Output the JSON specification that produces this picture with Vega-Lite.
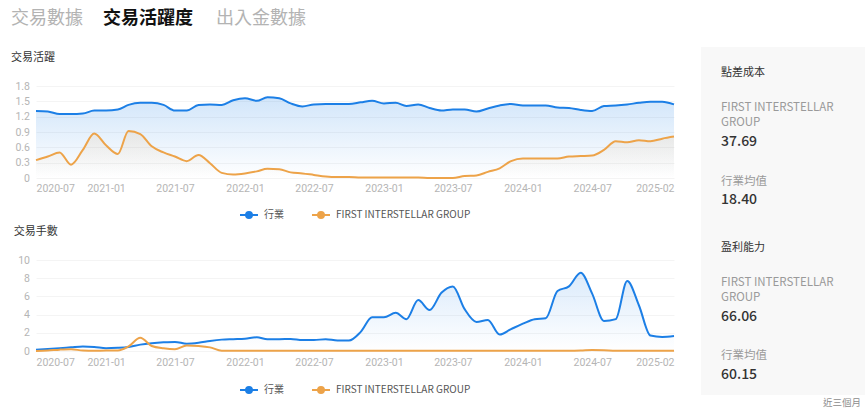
{
  "$schema": "https://vega.github.io/schema/vega-lite/v6.json",
  "padding": {"left": 10, "top": 6, "right": 3, "bottom": 0},
  "background": "#ffffff",
  "config": {
    "font": "Noto Sans CJK TC",
    "view": {"stroke": null},
    "axis": {"domain": false, "ticks": false, "title": null, "labelColor": "#b5b5b5", "labelFontSize": 10.5, "labelFont": "Roboto", "gridColor": "#f4f4f4", "gridWidth": 1},
    "title": {"anchor": "start", "fontSize": 11, "fontWeight": "normal", "color": "#333333", "offset": 18, "dx": -4},
    "legend": {"layout": {"bottom": {"anchor": "middle"}}}
  },
  "datasets": {
    "activity": [
      {"month": "2020-07", "行業": 1.31, "FIRST INTERSTELLAR GROUP": 0.35},
      {"month": "2020-08", "行業": 1.30, "FIRST INTERSTELLAR GROUP": 0.42},
      {"month": "2020-09", "行業": 1.25, "FIRST INTERSTELLAR GROUP": 0.50},
      {"month": "2020-10", "行業": 1.25, "FIRST INTERSTELLAR GROUP": 0.26},
      {"month": "2020-11", "行業": 1.26, "FIRST INTERSTELLAR GROUP": 0.55},
      {"month": "2020-12", "行業": 1.32, "FIRST INTERSTELLAR GROUP": 0.87},
      {"month": "2021-01", "行業": 1.32, "FIRST INTERSTELLAR GROUP": 0.64},
      {"month": "2021-02", "行業": 1.34, "FIRST INTERSTELLAR GROUP": 0.47},
      {"month": "2021-03", "行業": 1.43, "FIRST INTERSTELLAR GROUP": 0.92},
      {"month": "2021-04", "行業": 1.47, "FIRST INTERSTELLAR GROUP": 0.86},
      {"month": "2021-05", "行業": 1.47, "FIRST INTERSTELLAR GROUP": 0.62},
      {"month": "2021-06", "行業": 1.43, "FIRST INTERSTELLAR GROUP": 0.50},
      {"month": "2021-07", "行業": 1.32, "FIRST INTERSTELLAR GROUP": 0.42},
      {"month": "2021-08", "行業": 1.32, "FIRST INTERSTELLAR GROUP": 0.33},
      {"month": "2021-09", "行業": 1.43, "FIRST INTERSTELLAR GROUP": 0.45},
      {"month": "2021-10", "行業": 1.44, "FIRST INTERSTELLAR GROUP": 0.29},
      {"month": "2021-11", "行業": 1.43, "FIRST INTERSTELLAR GROUP": 0.10},
      {"month": "2021-12", "行業": 1.52, "FIRST INTERSTELLAR GROUP": 0.07},
      {"month": "2022-01", "行業": 1.56, "FIRST INTERSTELLAR GROUP": 0.09},
      {"month": "2022-02", "行業": 1.51, "FIRST INTERSTELLAR GROUP": 0.13},
      {"month": "2022-03", "行業": 1.58, "FIRST INTERSTELLAR GROUP": 0.18},
      {"month": "2022-04", "行業": 1.56, "FIRST INTERSTELLAR GROUP": 0.17},
      {"month": "2022-05", "行業": 1.46, "FIRST INTERSTELLAR GROUP": 0.11},
      {"month": "2022-06", "行業": 1.40, "FIRST INTERSTELLAR GROUP": 0.09},
      {"month": "2022-07", "行業": 1.44, "FIRST INTERSTELLAR GROUP": 0.06},
      {"month": "2022-08", "行業": 1.45, "FIRST INTERSTELLAR GROUP": 0.03},
      {"month": "2022-09", "行業": 1.45, "FIRST INTERSTELLAR GROUP": 0.02},
      {"month": "2022-10", "行業": 1.45, "FIRST INTERSTELLAR GROUP": 0.02},
      {"month": "2022-11", "行業": 1.48, "FIRST INTERSTELLAR GROUP": 0.01},
      {"month": "2022-12", "行業": 1.51, "FIRST INTERSTELLAR GROUP": 0.01},
      {"month": "2023-01", "行業": 1.46, "FIRST INTERSTELLAR GROUP": 0.01},
      {"month": "2023-02", "行業": 1.47, "FIRST INTERSTELLAR GROUP": 0.01},
      {"month": "2023-03", "行業": 1.41, "FIRST INTERSTELLAR GROUP": 0.01},
      {"month": "2023-04", "行業": 1.44, "FIRST INTERSTELLAR GROUP": 0.01},
      {"month": "2023-05", "行業": 1.37, "FIRST INTERSTELLAR GROUP": 0.00},
      {"month": "2023-06", "行業": 1.32, "FIRST INTERSTELLAR GROUP": 0.00},
      {"month": "2023-07", "行業": 1.34, "FIRST INTERSTELLAR GROUP": 0.00},
      {"month": "2023-08", "行業": 1.34, "FIRST INTERSTELLAR GROUP": 0.04},
      {"month": "2023-09", "行業": 1.30, "FIRST INTERSTELLAR GROUP": 0.05},
      {"month": "2023-10", "行業": 1.36, "FIRST INTERSTELLAR GROUP": 0.12},
      {"month": "2023-11", "行業": 1.42, "FIRST INTERSTELLAR GROUP": 0.19},
      {"month": "2023-12", "行業": 1.45, "FIRST INTERSTELLAR GROUP": 0.33},
      {"month": "2024-01", "行業": 1.42, "FIRST INTERSTELLAR GROUP": 0.38},
      {"month": "2024-02", "行業": 1.42, "FIRST INTERSTELLAR GROUP": 0.38},
      {"month": "2024-03", "行業": 1.42, "FIRST INTERSTELLAR GROUP": 0.38},
      {"month": "2024-04", "行業": 1.38, "FIRST INTERSTELLAR GROUP": 0.38},
      {"month": "2024-05", "行業": 1.37, "FIRST INTERSTELLAR GROUP": 0.42},
      {"month": "2024-06", "行業": 1.33, "FIRST INTERSTELLAR GROUP": 0.43},
      {"month": "2024-07", "行業": 1.31, "FIRST INTERSTELLAR GROUP": 0.44},
      {"month": "2024-08", "行業": 1.41, "FIRST INTERSTELLAR GROUP": 0.55},
      {"month": "2024-09", "行業": 1.42, "FIRST INTERSTELLAR GROUP": 0.72},
      {"month": "2024-10", "行業": 1.44, "FIRST INTERSTELLAR GROUP": 0.70},
      {"month": "2024-11", "行業": 1.47, "FIRST INTERSTELLAR GROUP": 0.74},
      {"month": "2024-12", "行業": 1.49, "FIRST INTERSTELLAR GROUP": 0.72},
      {"month": "2025-01", "行業": 1.49, "FIRST INTERSTELLAR GROUP": 0.77},
      {"month": "2025-02", "行業": 1.44, "FIRST INTERSTELLAR GROUP": 0.81}
    ],
    "lots": [
      {"month": "2020-07", "行業": 0.15, "FIRST INTERSTELLAR GROUP": 0.0},
      {"month": "2020-08", "行業": 0.22, "FIRST INTERSTELLAR GROUP": 0.05},
      {"month": "2020-09", "行業": 0.3, "FIRST INTERSTELLAR GROUP": 0.15},
      {"month": "2020-10", "行業": 0.4, "FIRST INTERSTELLAR GROUP": 0.2},
      {"month": "2020-11", "行業": 0.5, "FIRST INTERSTELLAR GROUP": 0.05},
      {"month": "2020-12", "行業": 0.45, "FIRST INTERSTELLAR GROUP": 0.02},
      {"month": "2021-01", "行業": 0.3, "FIRST INTERSTELLAR GROUP": 0.05},
      {"month": "2021-02", "行業": 0.35, "FIRST INTERSTELLAR GROUP": 0.05},
      {"month": "2021-03", "行業": 0.45, "FIRST INTERSTELLAR GROUP": 0.5},
      {"month": "2021-04", "行業": 0.7, "FIRST INTERSTELLAR GROUP": 1.45},
      {"month": "2021-05", "行業": 0.85, "FIRST INTERSTELLAR GROUP": 0.55},
      {"month": "2021-06", "行業": 0.95, "FIRST INTERSTELLAR GROUP": 0.3},
      {"month": "2021-07", "行業": 1.0, "FIRST INTERSTELLAR GROUP": 0.2},
      {"month": "2021-08", "行業": 0.8, "FIRST INTERSTELLAR GROUP": 0.6},
      {"month": "2021-09", "行業": 0.9, "FIRST INTERSTELLAR GROUP": 0.55},
      {"month": "2021-10", "行業": 1.1, "FIRST INTERSTELLAR GROUP": 0.4},
      {"month": "2021-11", "行業": 1.25, "FIRST INTERSTELLAR GROUP": 0.03},
      {"month": "2021-12", "行業": 1.3, "FIRST INTERSTELLAR GROUP": 0.03},
      {"month": "2022-01", "行業": 1.35, "FIRST INTERSTELLAR GROUP": 0.03},
      {"month": "2022-02", "行業": 1.5, "FIRST INTERSTELLAR GROUP": 0.03},
      {"month": "2022-03", "行業": 1.3, "FIRST INTERSTELLAR GROUP": 0.03},
      {"month": "2022-04", "行業": 1.3, "FIRST INTERSTELLAR GROUP": 0.03},
      {"month": "2022-05", "行業": 1.32, "FIRST INTERSTELLAR GROUP": 0.03},
      {"month": "2022-06", "行業": 1.2, "FIRST INTERSTELLAR GROUP": 0.03},
      {"month": "2022-07", "行業": 1.2, "FIRST INTERSTELLAR GROUP": 0.03},
      {"month": "2022-08", "行業": 1.3, "FIRST INTERSTELLAR GROUP": 0.03},
      {"month": "2022-09", "行業": 1.15, "FIRST INTERSTELLAR GROUP": 0.03},
      {"month": "2022-10", "行業": 1.15, "FIRST INTERSTELLAR GROUP": 0.03},
      {"month": "2022-11", "行業": 2.1, "FIRST INTERSTELLAR GROUP": 0.03},
      {"month": "2022-12", "行業": 3.7, "FIRST INTERSTELLAR GROUP": 0.03},
      {"month": "2023-01", "行業": 3.7, "FIRST INTERSTELLAR GROUP": 0.03},
      {"month": "2023-02", "行業": 4.2, "FIRST INTERSTELLAR GROUP": 0.03},
      {"month": "2023-03", "行業": 3.5, "FIRST INTERSTELLAR GROUP": 0.03},
      {"month": "2023-04", "行業": 5.6, "FIRST INTERSTELLAR GROUP": 0.03},
      {"month": "2023-05", "行業": 4.5, "FIRST INTERSTELLAR GROUP": 0.03},
      {"month": "2023-06", "行業": 6.4, "FIRST INTERSTELLAR GROUP": 0.03},
      {"month": "2023-07", "行業": 7.1, "FIRST INTERSTELLAR GROUP": 0.03},
      {"month": "2023-08", "行業": 4.6, "FIRST INTERSTELLAR GROUP": 0.03},
      {"month": "2023-09", "行業": 3.2, "FIRST INTERSTELLAR GROUP": 0.03},
      {"month": "2023-10", "行業": 3.4, "FIRST INTERSTELLAR GROUP": 0.03},
      {"month": "2023-11", "行業": 1.8, "FIRST INTERSTELLAR GROUP": 0.03},
      {"month": "2023-12", "行業": 2.4, "FIRST INTERSTELLAR GROUP": 0.03},
      {"month": "2024-01", "行業": 3.0, "FIRST INTERSTELLAR GROUP": 0.03},
      {"month": "2024-02", "行業": 3.5, "FIRST INTERSTELLAR GROUP": 0.03},
      {"month": "2024-03", "行業": 3.6, "FIRST INTERSTELLAR GROUP": 0.03},
      {"month": "2024-04", "行業": 6.6, "FIRST INTERSTELLAR GROUP": 0.03},
      {"month": "2024-05", "行業": 7.1, "FIRST INTERSTELLAR GROUP": 0.03},
      {"month": "2024-06", "行業": 8.6, "FIRST INTERSTELLAR GROUP": 0.05},
      {"month": "2024-07", "行業": 6.3, "FIRST INTERSTELLAR GROUP": 0.1},
      {"month": "2024-08", "行業": 3.3, "FIRST INTERSTELLAR GROUP": 0.08},
      {"month": "2024-09", "行業": 3.5, "FIRST INTERSTELLAR GROUP": 0.03},
      {"month": "2024-10", "行業": 7.7, "FIRST INTERSTELLAR GROUP": 0.03},
      {"month": "2024-11", "行業": 5.0, "FIRST INTERSTELLAR GROUP": 0.03},
      {"month": "2024-12", "行業": 1.7, "FIRST INTERSTELLAR GROUP": 0.03},
      {"month": "2025-01", "行業": 1.55, "FIRST INTERSTELLAR GROUP": 0.03},
      {"month": "2025-02", "行業": 1.65, "FIRST INTERSTELLAR GROUP": 0.03}
    ],
    "tabs": [
      {"tab": "交易數據", "active": false},
      {"tab": "交易活躍度", "active": true},
      {"tab": "出入金數據", "active": false}
    ],
    "panel": [
      {"metric": "點差成本", "entity": null, "value": null},
      {"metric": "點差成本", "entity": "FIRST INTERSTELLAR GROUP", "value": 37.69},
      {"metric": "點差成本", "entity": "行業均值", "value": 18.40},
      {"metric": "盈利能力", "entity": null, "value": null},
      {"metric": "盈利能力", "entity": "FIRST INTERSTELLAR GROUP", "value": 66.06},
      {"metric": "盈利能力", "entity": "行業均值", "value": 60.15}
    ]
  },
  "spacing": 23,
  "hconcat": [
    {
      "spacing": 22,
      "vconcat": [
        {
          "width": 307.5,
          "height": 24,
          "data": {"name": "tabs"},
          "encoding": {
            "x": {"field": "tab", "type": "nominal", "bandPosition": 0, "scale": {"type": "band", "domain": ["交易數據", "交易活躍度", "出入金數據"], "paddingInner": 0, "paddingOuter": 0}, "axis": null},
            "text": {"field": "tab"}
          },
          "layer": [
            {"transform": [{"filter": "!datum.active"}], "mark": {"type": "text", "align": "left", "baseline": "middle", "fontSize": 18, "color": "#b3b3b3", "dx": -25, "dy": 1}},
            {"transform": [{"filter": "datum.active"}], "mark": {"type": "text", "align": "left", "baseline": "middle", "fontSize": 18, "fontWeight": "bold", "color": "#111111", "dx": -35.5, "dy": 1}}
          ]
        },
        {
          "spacing": 4,
          "resolve": {"scale": {"x": "independent", "y": "independent"}, "legend": {"color": "independent"}},
          "vconcat": [
            {
              "title": "交易活躍",
              "width": 638,
              "height": 92,
              "data": {"name": "activity"},
              "transform": [{"fold": ["行業", "FIRST INTERSTELLAR GROUP"], "as": ["series", "value"]}],
              "encoding": {
                "x": {"field": "month", "type": "temporal", "scale": {"type": "utc", "nice": false},
                  "axis": {"values": [
                    {"year": 2020, "month": 7, "date": 1, "utc": true},
                    {"year": 2021, "month": 1, "date": 1, "utc": true},
                    {"year": 2021, "month": 7, "date": 1, "utc": true},
                    {"year": 2022, "month": 1, "date": 1, "utc": true},
                    {"year": 2022, "month": 7, "date": 1, "utc": true},
                    {"year": 2023, "month": 1, "date": 1, "utc": true},
                    {"year": 2023, "month": 7, "date": 1, "utc": true},
                    {"year": 2024, "month": 1, "date": 1, "utc": true},
                    {"year": 2024, "month": 7, "date": 1, "utc": true},
                    {"year": 2025, "month": 2, "date": 1, "utc": true}
                  ], "labelExpr": "utcFormat(datum.value, '%Y-%m')", "labelFlush": true, "labelOverlap": false, "labelPadding": 5, "grid": false}},
                "y": {"field": "value", "type": "quantitative", "scale": {"domain": [0, 1.8], "nice": false},
                  "axis": {"values": [0, 0.3, 0.6, 0.9, 1.2, 1.5, 1.8], "format": ".1~f", "labelPadding": 6.5, "grid": true}}
              },
              "layer": [
                {"transform": [{"filter": "datum.series === '行業'"}], "mark": {"type": "area", "interpolate": "monotone", "color": {"gradient": "linear", "x1": 0, "y1": 0, "x2": 0, "y2": 1, "stops": [{"offset": 0, "color": "rgba(28,127,230,0.2)"}, {"offset": 1, "color": "rgba(28,127,230,0.0)"}]}}},
                {"transform": [{"filter": "datum.series !== '行業'"}], "mark": {"type": "area", "interpolate": "monotone", "color": {"gradient": "linear", "x1": 0, "y1": 0, "x2": 0, "y2": 1, "stops": [{"offset": 0, "color": "rgba(237,163,73,0.13)"}, {"offset": 1, "color": "rgba(237,163,73,0.0)"}]}}},
                {"mark": {"type": "line", "interpolate": "monotone", "strokeWidth": 2},
                  "encoding": {"color": {"field": "series", "type": "nominal", "scale": {"domain": ["行業", "FIRST INTERSTELLAR GROUP"], "range": ["#1c7fe6", "#eda349"]},
                    "legend": {"orient": "bottom", "direction": "horizontal", "title": null, "offset": 11, "padding": 0, "symbolType": "M-1,0L1,0M0.33,0A0.33,0.33,0,1,1,-0.33,0A0.33,0.33,0,1,1,0.33,0", "symbolSize": 324, "symbolStrokeWidth": 2, "labelFont": "Noto Sans CJK TC", "labelFontSize": 10, "labelColor": "#555555", "labelOffset": 5, "columnPadding": 24,
                      "encode": {"symbols": {"update": {"fill": {"signal": "datum.value === '行業' ? '#1c7fe6' : '#eda349'"}, "opacity": {"value": 1}}}}}}}}
              ]
            },
            {
              "title": "交易手數",
              "width": 638,
              "height": 91,
              "data": {"name": "lots"},
              "transform": [{"fold": ["行業", "FIRST INTERSTELLAR GROUP"], "as": ["series", "value"]}],
              "encoding": {
                "x": {"field": "month", "type": "temporal", "scale": {"type": "utc", "nice": false},
                  "axis": {"values": [
                    {"year": 2020, "month": 7, "date": 1, "utc": true},
                    {"year": 2021, "month": 1, "date": 1, "utc": true},
                    {"year": 2021, "month": 7, "date": 1, "utc": true},
                    {"year": 2022, "month": 1, "date": 1, "utc": true},
                    {"year": 2022, "month": 7, "date": 1, "utc": true},
                    {"year": 2023, "month": 1, "date": 1, "utc": true},
                    {"year": 2023, "month": 7, "date": 1, "utc": true},
                    {"year": 2024, "month": 1, "date": 1, "utc": true},
                    {"year": 2024, "month": 7, "date": 1, "utc": true},
                    {"year": 2025, "month": 2, "date": 1, "utc": true}
                  ], "labelExpr": "utcFormat(datum.value, '%Y-%m')", "labelFlush": true, "labelOverlap": false, "labelPadding": 6, "grid": false}},
                "y": {"field": "value", "type": "quantitative", "scale": {"domain": [0, 10], "nice": false},
                  "axis": {"values": [0, 2, 4, 6, 8, 10], "labelPadding": 6.5, "grid": true}}
              },
              "layer": [
                {"transform": [{"filter": "datum.series === '行業'"}], "mark": {"type": "area", "interpolate": "monotone", "color": {"gradient": "linear", "x1": 0, "y1": 0, "x2": 0, "y2": 1, "stops": [{"offset": 0, "color": "rgba(28,127,230,0.16)"}, {"offset": 1, "color": "rgba(28,127,230,0.0)"}]}}},
                {"mark": {"type": "line", "interpolate": "monotone", "strokeWidth": 2},
                  "encoding": {"color": {"field": "series", "type": "nominal", "scale": {"domain": ["行業", "FIRST INTERSTELLAR GROUP"], "range": ["#1c7fe6", "#eda349"]},
                    "legend": {"orient": "bottom", "direction": "horizontal", "title": null, "offset": 12, "padding": 0, "symbolType": "M-1,0L1,0M0.33,0A0.33,0.33,0,1,1,-0.33,0A0.33,0.33,0,1,1,0.33,0", "symbolSize": 324, "symbolStrokeWidth": 2, "labelFont": "Noto Sans CJK TC", "labelFontSize": 10, "labelColor": "#555555", "labelOffset": 5, "columnPadding": 24,
                      "encode": {"symbols": {"update": {"fill": {"signal": "datum.value === '行業' ? '#1c7fe6' : '#eda349'"}, "opacity": {"value": 1}}}}}}}}
              ]
            }
          ]
        }
      ]
    },
    {
      "spacing": 10,
      "vconcat": [
        {
          "width": 166,
          "height": 31,
          "data": {"values": []},
          "mark": {"type": "point"},
          "encoding": {}
        },
        {
          "width": 166,
          "height": 348,
          "view": {"fill": "#f8f8f8", "stroke": null},
          "title": {"text": "近三個月", "orient": "bottom", "anchor": "end", "fontSize": 9.5, "color": "#8c8c8c", "offset": 3, "dx": -6},
          "data": {"name": "panel"},
          "transform": [
            {"calculate": "datum.entity ? datum.metric + '/' + datum.entity : datum.metric", "as": "key"},
            {"calculate": "datum.entity ? replace(datum.entity, ' GROUP', '\\nGROUP') : ''", "as": "label"}
          ],
          "encoding": {
            "y": {"field": "key", "type": "nominal", "scale": {"type": "point", "domain": ["點差成本", "點差成本/FIRST INTERSTELLAR GROUP", "點差成本/行業均值", "盈利能力", "盈利能力/FIRST INTERSTELLAR GROUP", "盈利能力/行業均值"], "padding": 0.49, "align": 0.46}, "axis": null},
            "x": {"value": 20}
          },
          "layer": [
            {"transform": [{"filter": "!datum.entity"}], "mark": {"type": "text", "align": "left", "baseline": "middle", "fontSize": 11, "color": "#333333"}, "encoding": {"text": {"field": "metric"}}},
            {"transform": [{"filter": "datum.entity && indexof(datum.label, '\\n') >= 0"}], "mark": {"type": "text", "align": "left", "baseline": "bottom", "fontSize": 11.5, "color": "#9a9a9a", "dy": -18, "lineBreak": "\n", "lineHeight": 15}, "encoding": {"text": {"field": "label"}}},
            {"transform": [{"filter": "datum.entity && indexof(datum.label, '\\n') < 0"}], "mark": {"type": "text", "align": "left", "baseline": "bottom", "fontSize": 11.5, "color": "#9a9a9a", "dy": -3}, "encoding": {"text": {"field": "label"}}},
            {"transform": [{"filter": "datum.entity"}], "mark": {"type": "text", "align": "left", "baseline": "top", "fontSize": 14, "fontWeight": 500, "color": "#333333", "dy": 3.5}, "encoding": {"text": {"field": "value", "type": "quantitative", "format": ".2f"}}}
          ]
        }
      ]
    }
  ]
}
